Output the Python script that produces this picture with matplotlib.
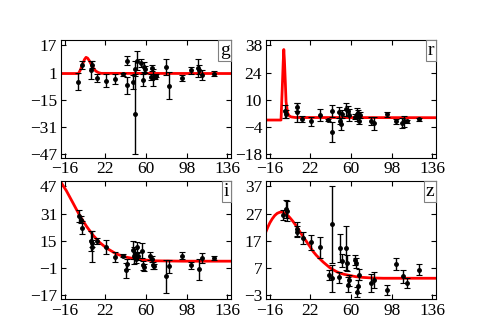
import matplotlib
matplotlib.use("Agg")
import matplotlib.pyplot as plt

plt.rcParams.update({"font.family": ["Liberation Serif", "DejaVu Serif"], "font.size": 12.5,
                     "xtick.direction": "in", "ytick.direction": "in",
                     "xtick.top": True, "ytick.right": True,
                     "xtick.major.size": 3.5, "ytick.major.size": 3.5,
                     "xtick.major.pad": 2.5, "ytick.major.pad": 2.5})

XTICKS = [-16, 22, 60, 98, 136]

# ---- g band ----
g_x = [-3.3, 0.1, 8.6, 9.8, 14.5, 22.3, 30.8, 38.6, 41.7, 42.3, 48.0, 49.2, 49.8, 51.4, 55.1,
       56.7, 58.0, 58.9, 64.2, 65.2, 66.4, 68.3, 69.2, 78.6, 81.7, 93.3, 101.7, 108.9, 109.8,
       112.7, 123.6]
g_y = [-4.3, 5.2, 2.3, 5.6, -2.0, -3.9, -2.8, -0.1, 8.0, -6.6, -4.7, -23.3, 3.2, 8.0, 6.7,
       -3.4, 4.2, 2.9, -1.5, 3.7, -2.0, -1.5, -0.9, 4.2, -6.8, -2.4, 2.3, 3.7, 2.7, -0.5, 0.4]
g_err = [4.8, 2.4, 5.2, 2.1, 2.4, 3.8, 2.8, 0.7, 2.8, 4.9, 4.0, 23.4, 4.3, 5.7, 2.4,
         3.8, 2.8, 2.0, 1.9, 1.9, 5.2, 1.3, 1.0, 4.6, 8.0, 1.7, 1.9, 5.5, 2.8, 2.8, 1.3]
g_fit_x = [-20, -3.3, -1.5, 0.5, 2.3, 3.8, 5.3, 7.0, 9.0, 11.0, 13.0, 15.5, 18.0, 140]
g_fit_y = [0.4, 0.4, 2.5, 5.8, 8.6, 9.9, 9.4, 7.8, 5.3, 3.2, 1.8, 0.9, 0.5, 0.4]
g_yticks = [17, 1, -15, -31, -47]

# ---- r band ----
r_x = [-1.5, -0.5, 8.9, 9.5, 14.5, 22.3, 30.8, 38.6, 41.7, 42.6, 48.3, 49.5, 50.5, 51.4,
       55.1, 56.7, 57.6, 63.6, 65.2, 66.7, 67.7, 68.3, 78.6, 81.7, 93.3, 101.7, 108.0, 109.9,
       112.0, 123.6]
r_y = [4.2, 2.5, 3.5, 6.3, 0.0, -1.1, 2.2, -0.3, -6.5, 4.2, 3.5, -1.1, -2.5, 2.5,
       5.2, 4.3, 2.2, 1.4, 2.5, 3.0, -0.8, 2.2, -0.8, -2.0, 2.5, -1.1, -2.0, -1.1, -1.1, 0.0]
r_err = [3.3, 2.0, 5.0, 2.3, 1.5, 2.3, 3.3, 0.6, 5.2, 2.9, 2.9, 1.5, 2.9, 2.0,
         3.3, 2.5, 3.3, 1.2, 3.3, 2.0, 1.5, 1.5, 2.0, 3.3, 1.4, 1.2, 2.5, 2.9, 0.8, 0.8]
r_fit_x = [-20, -5.6, -4.5, -3.5, -3.0, -2.4, -1.5, -0.9, 0.0, 0.7, 2.0, 3.8, 8.0, 140]
r_fit_y = [-0.4, -0.4, 15.0, 30.0, 35.8, 30.0, 18.0, 9.0, 5.5, 3.0, 1.8, 1.2, 0.9, 0.8]
r_yticks = [38, 24, 10, -4, -18]

# ---- i band ----
i_x = [-3.0, -1.1, 0.4, 8.2, 9.2, 9.8, 14.5, 22.3, 30.8, 38.6, 41.1, 42.6, 48.0, 48.9,
       49.5, 50.5, 51.1, 52.0, 55.8, 56.7, 58.3, 63.9, 65.2, 66.4, 67.7, 78.6, 81.7, 93.3,
       101.7, 109.6, 112.7, 123.6]
i_y = [29.4, 27.5, 22.7, 15.0, 11.7, 13.7, 15.0, 11.5, 5.4, 6.4, -2.3, 1.5, 9.6, 6.4,
       7.3, 4.4, 11.2, 6.0, 9.2, 0.6, -0.6, 6.0, 4.4, 0.6, 0.2, -5.8, 0.2, 6.4,
       0.6, -1.7, 4.8, 4.8]
i_err = [3.6, 1.9, 3.8, 5.8, 9.0, 2.0, 1.9, 4.3, 2.9, 1.0, 4.3, 2.9, 5.3, 4.8,
         3.0, 2.5, 3.4, 2.5, 4.3, 2.4, 1.9, 2.4, 2.0, 2.0, 1.5, 9.6, 3.8, 2.1,
         1.9, 6.0, 3.0, 1.3]
i_fit_x = [-19.9, -14.6, -8.3, -2.1, 4.2, 10.4, 16.7, 22.9, 32.3, 41.7, 54.2, 69.8, 94.9, 139.6]
i_fit_y = [49.6, 44.4, 37.1, 29.8, 23.6, 18.3, 14.0, 10.8, 7.3, 5.4, 4.0, 3.3, 3.1, 3.1]
i_yticks = [47, 31, 15, -1, -17]

# ---- z band ----
z_x = [-3.6, -1.1, 0.1, 8.9, 9.5, 15.1, 22.3, 30.8, 39.2, 41.7, 42.6, 48.3, 49.5, 51.1,
       55.1, 56.4, 57.3, 58.3, 63.6, 64.5, 65.2, 66.7, 67.7, 78.6, 81.7, 93.3, 101.7, 108.3,
       112.0, 123.6]
z_y = [26.5, 28.7, 28.0, 21.4, 20.4, 18.0, 16.5, 14.6, 4.6, 23.1, 3.3, 3.6, 14.3, 9.7,
       14.3, 8.8, 0.9, 2.5, 10.0, 8.8, -1.8, 0.3, 4.6, 1.5, 2.7, -0.9, 8.5, 4.0,
       1.5, 6.4]
z_err = [1.8, 3.4, 3.6, 2.7, 2.0, 2.3, 2.7, 3.7, 1.8, 14.2, 5.0, 2.1, 5.2, 2.4,
         8.0, 3.0, 2.7, 2.0, 1.8, 1.8, 1.8, 2.4, 2.1, 3.4, 3.0, 1.8, 2.1, 2.4,
         1.8, 2.0]
z_fit_x = [-19.9, -18.0, -16.1, -13.8, -11.5, -9.2, -6.8, -5.2, -3.0, -0.5, 2.5, 5.7, 9.0,
           12.0, 15.0, 18.2, 21.5, 24.5, 27.5, 30.8, 34.0, 37.0, 40.0, 43.3, 46.5, 49.5,
           54.0, 58.9, 64.0, 71.4, 80.0, 90.2, 139.6]
z_fit_y = [20.2, 22.0, 23.6, 25.1, 26.3, 27.1, 27.5, 27.6, 27.4, 26.8, 25.6, 24.1, 22.3,
           20.4, 18.6, 16.8, 14.9, 13.1, 11.7, 10.4, 9.2, 8.2, 7.2, 6.4, 5.7, 5.2,
           4.7, 4.3, 3.9, 3.6, 3.4, 3.3, 3.3]
z_yticks = [37, 27, 17, 7, -3]

panels = [("g", g_x, g_y, g_err, g_fit_x, g_fit_y, g_yticks),
          ("r", r_x, r_y, r_err, r_fit_x, r_fit_y, r_yticks),
          ("i", i_x, i_y, i_err, i_fit_x, i_fit_y, i_yticks),
          ("z", z_x, z_y, z_err, z_fit_x, z_fit_y, z_yticks)]

fig, axes = plt.subplots(2, 2, figsize=(4.85, 3.36), dpi=100)
for ax, (band, x, y, e, fx, fy, yt) in zip(axes.flat, panels):
    ax.plot(fx, fy, color="red", lw=2, zorder=2)
    ax.errorbar(x, y, yerr=e, fmt="o", color="black", ms=2.5, elinewidth=1,
                capsize=2.4, capthick=0.8, zorder=3)
    ax.set_xticks(XTICKS)
    ax.set_xlim(-20, 140)
    lo, hi = min(yt), max(yt)
    span = hi - lo
    ax.set_yticks(yt)
    ax.set_ylim(lo - 0.033 * span, hi + 0.045 * span)
    ax.text(0.988, 0.985, band, transform=ax.transAxes, ha="right", va="top", fontsize=14,
            bbox=dict(boxstyle="square,pad=0.1", fc="white", ec="0.5", lw=0.8))

fig.savefig("out.png", dpi=100)
